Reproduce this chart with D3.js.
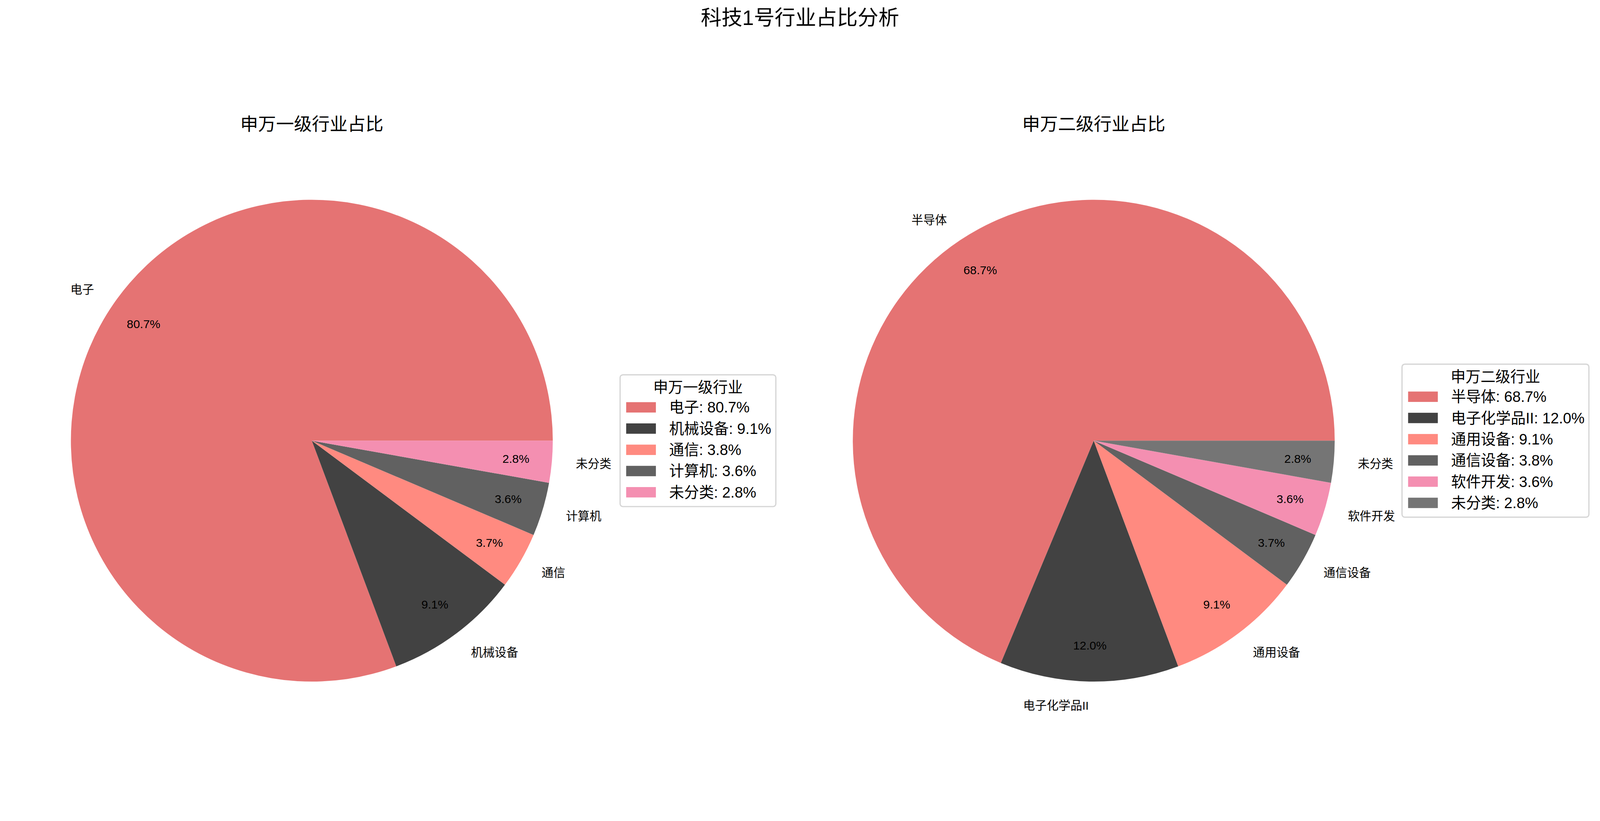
<!DOCTYPE html>
<html>
<head>
<meta charset="utf-8">
<script src="https://cdn.jsdelivr.net/npm/d3@7/dist/d3.min.js"></script>
<style>
  html, body { margin: 0; padding: 0; background: #ffffff; overflow: hidden; }
  svg { display: block; width: 100vw; height: 100vh; }
  text { font-family: "Liberation Sans", Arial, "Noto Sans CJK SC", sans-serif; fill: #000; }
</style>
</head>
<body>
<script>
// ---------- data ----------
const mainTitle = "科技1号行业占比分析";

const level1Title = "申万一级行业占比";
const level1LegendTitle = "申万一级行业";
const level1Names = ["电子", "机械设备", "通信", "计算机", "未分类"];
const level1Values = [80.7, 9.1, 3.8, 3.6, 2.8];
const level1PctLabels = ["80.7%", "9.1%", "3.7%", "3.6%", "2.8%"];
const level1Colors = ["#e57373", "#424242", "#ff8a80", "#616161", "#f48fb1"];

const level2Title = "申万二级行业占比";
const level2LegendTitle = "申万二级行业";
const level2Names = ["半导体", "电子化学品II", "通用设备", "通信设备", "软件开发", "未分类"];
const level2Values = [68.7, 12.0, 9.1, 3.8, 3.6, 2.8];
const level2PctLabels = ["68.7%", "12.0%", "9.1%", "3.7%", "3.6%", "2.8%"];
const level2Colors = ["#e57373", "#424242", "#ff8a80", "#616161", "#f48fb1", "#757575"];

// ---------- layout ----------
const W = 4469, H = 2102;
const R = 673;
const svg = d3.select("body").append("svg")
  .attr("viewBox", `0 0 ${W} ${H}`)
  .attr("preserveAspectRatio", "xMidYMin meet");
svg.append("rect").attr("width", W).attr("height", H).attr("fill", "#fff");

svg.append("text")
  .attr("x", W / 2).attr("y", 50)
  .attr("text-anchor", "middle")
  .attr("dominant-baseline", "central")
  .attr("font-size", 58)
  .text(mainTitle);

function drawPie(cfg) {
  const g = svg.append("g").attr("transform", `translate(${cfg.cx},${cfg.cy})`);

  g.append("text")
    .attr("x", 0).attr("y", cfg.titleY - cfg.cy)
    .attr("text-anchor", "middle")
    .attr("dominant-baseline", "central")
    .attr("font-size", 50)
    .text(cfg.title);

  const items = cfg.names.map((n, i) => ({ name: n, value: cfg.values[i], pct: cfg.pct[i], color: cfg.colors[i] }));

  // matplotlib style: start at 3 o'clock, counterclockwise
  const pie = d3.pie().sort(null).value(d => d.value)
    .startAngle(Math.PI / 2).endAngle(Math.PI / 2 - 2 * Math.PI);
  const arcs = pie(items);

  const arc = d3.arc().innerRadius(0).outerRadius(R);
  const pctArc = d3.arc().innerRadius(R * 0.85).outerRadius(R * 0.85);
  const lblArc = d3.arc().innerRadius(R * 1.1).outerRadius(R * 1.1);

  g.selectAll("path.wedge").data(arcs).enter().append("path")
    .attr("class", "wedge")
    .attr("d", arc)
    .attr("fill", d => d.data.color);

  g.selectAll("text.pct").data(arcs).enter().append("text")
    .attr("class", "pct")
    .attr("transform", d => `translate(${pctArc.centroid(d)})`)
    .attr("text-anchor", "middle")
    .attr("dominant-baseline", "central")
    .attr("font-size", 33)
    .text(d => d.data.pct);

  g.selectAll("text.lbl").data(arcs).enter().append("text")
    .attr("class", "lbl")
    .attr("transform", d => `translate(${lblArc.centroid(d)})`)
    .attr("text-anchor", d => lblArc.centroid(d)[0] > 0 ? "start" : "end")
    .attr("dominant-baseline", "central")
    .attr("font-size", 33)
    .text(d => d.data.name);

  // legend
  const rowH = 59.3;
  const lx = R + 188;
  const boxW = cfg.legendW;
  const boxH = 35 + 56 + (items.length - 1) * rowH + 40;
  const ly = -boxH / 2;
  const lg = g.append("g").attr("transform", `translate(${lx},${ly})`);
  lg.append("rect")
    .attr("width", boxW).attr("height", boxH)
    .attr("rx", 8).attr("ry", 8)
    .attr("fill", "#fff").attr("fill-opacity", 0.8)
    .attr("stroke", "#d6d6d6").attr("stroke-width", 3.5);
  lg.append("text")
    .attr("x", boxW / 2).attr("y", 35)
    .attr("text-anchor", "middle")
    .attr("dominant-baseline", "central")
    .attr("font-size", 41.7)
    .text(cfg.legendTitle);
  const rows = lg.selectAll("g.row").data(items).enter().append("g")
    .attr("class", "row")
    .attr("transform", (d, i) => `translate(0,${35 + 56 + i * rowH})`);
  rows.append("rect")
    .attr("x", 17).attr("y", -14.5)
    .attr("width", 83).attr("height", 29)
    .attr("fill", d => d.color);
  rows.append("text")
    .attr("x", 137).attr("y", 0)
    .attr("dominant-baseline", "central")
    .attr("font-size", 41.7)
    .text(d => `${d.name}: ${d.value.toFixed(1)}%`);
}

drawPie({
  cx: 871, cy: 1231, titleY: 347,
  title: level1Title, legendTitle: level1LegendTitle,
  names: level1Names, values: level1Values, pct: level1PctLabels, colors: level1Colors,
  legendW: 435
});
drawPie({
  cx: 3055, cy: 1231, titleY: 347,
  title: level2Title, legendTitle: level2LegendTitle,
  names: level2Names, values: level2Values, pct: level2PctLabels, colors: level2Colors,
  legendW: 522
});
</script>
</body>
</html>
